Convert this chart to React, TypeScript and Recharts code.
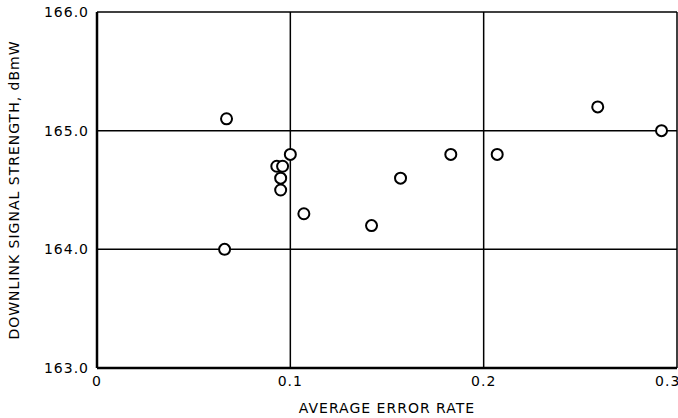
import React from 'react';
import { ScatterChart, Scatter, XAxis, YAxis, CartesianGrid, Label } from 'recharts';

// error rate vs downlink signal strength, one point per pass
const errorRate = [0.067, 0.066, 0.1, 0.093, 0.096, 0.095, 0.095, 0.107, 0.142, 0.157, 0.183, 0.207, 0.259, 0.292];
const signalDbmW = [165.1, 164.0, 164.8, 164.7, 164.7, 164.6, 164.5, 164.3, 164.2, 164.6, 164.8, 164.8, 165.2, 165.0];

const xTicks = [0, 0.1, 0.2, 0.3];
const yTicks = [163, 164, 165, 166];

const points = errorRate.map((x, i) => ({ x, y: signalDbmW[i] }));

const font = '"DejaVu Sans", sans-serif';

const RingDot = (props: any) => {
  const { cx, cy } = props;
  if (cx == null || cy == null) return null;
  return <circle cx={cx} cy={cy} r={5.5} fill="#fff" stroke="#000" strokeWidth={2} />;
};

export default function App() {
  return (
    <div style={{ position: 'absolute', left: 0, top: 0, background: '#fff' }}>
      <ScatterChart width={678} height={418} margin={{ top: 12, right: 1, bottom: 0, left: 0 }}>
        <CartesianGrid stroke="#000" strokeWidth={1.5} />
        <XAxis
          type="number"
          dataKey="x"
          domain={[0, 0.3]}
          ticks={xTicks}
          tickFormatter={(v: number) => (v === 0 ? '0' : v.toFixed(1))}
          tickLine={false}
          axisLine={{ stroke: '#000', strokeWidth: 2.5 }}
          tick={{ fill: '#000', fontSize: 14, fontFamily: font, letterSpacing: 1 }}
          height={50}
        >
          <Label
            value="AVERAGE ERROR RATE"
            position="insideBottom"
            offset={5}
            style={{ fill: '#000', fontSize: 14, fontFamily: font, letterSpacing: 1 }}
          />
        </XAxis>
        <YAxis
          type="number"
          dataKey="y"
          domain={[163, 166]}
          ticks={yTicks}
          tickFormatter={(v: number) => v.toFixed(1)}
          tickLine={false}
          axisLine={{ stroke: '#000', strokeWidth: 2.5 }}
          tick={{ fill: '#000', fontSize: 14, fontFamily: font, letterSpacing: 1 }}
          width={97}
        >
          <Label
            value="DOWNLINK SIGNAL STRENGTH, dBmW"
            angle={-90}
            position="insideLeft"
            offset={14}
            style={{ textAnchor: 'middle', fill: '#000', fontSize: 14, fontFamily: font, letterSpacing: 1 }}
          />
        </YAxis>
        <Scatter data={points} shape={<RingDot />} isAnimationActive={false} />
      </ScatterChart>
    </div>
  );
}
